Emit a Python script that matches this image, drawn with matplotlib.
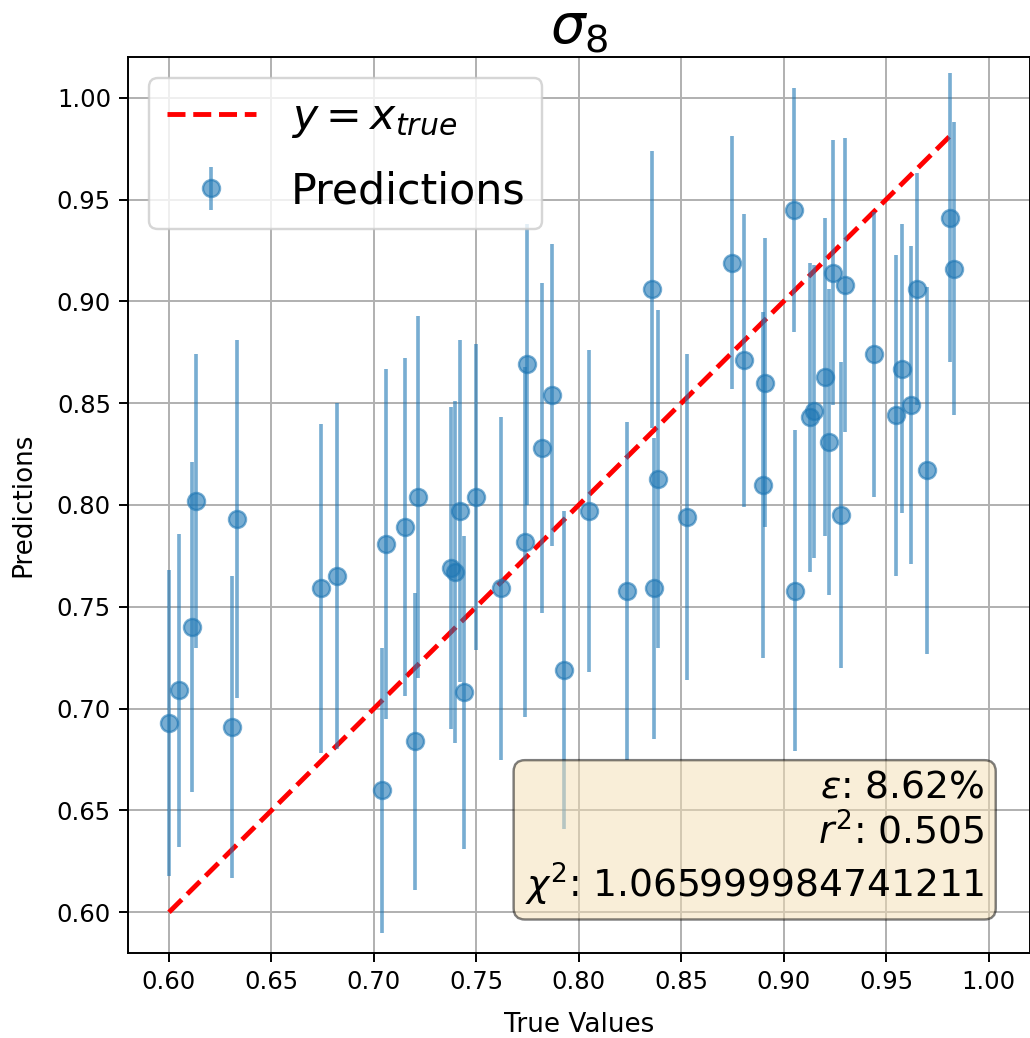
import matplotlib
matplotlib.use("Agg")
import matplotlib.pyplot as plt
import numpy as np

true_values = [0.600, 0.605, 0.611, 0.613, 0.631, 0.633, 0.674, 0.682, 0.704, 0.706,
               0.715, 0.720, 0.7215, 0.7376, 0.7395, 0.742, 0.744, 0.750, 0.762, 0.7746,
               0.774, 0.782, 0.787, 0.793, 0.805, 0.8234, 0.8356, 0.8366, 0.8385, 0.8527,
               0.8746, 0.8805, 0.8907, 0.8898, 0.9049, 0.9054, 0.9127, 0.9146, 0.920, 0.922,
               0.924, 0.930, 0.928, 0.944, 0.955, 0.958, 0.962, 0.965, 0.970, 0.981, 0.983]
predictions = [0.693, 0.709, 0.740, 0.802, 0.691, 0.793, 0.759, 0.765, 0.660, 0.781,
               0.789, 0.684, 0.804, 0.769, 0.767, 0.797, 0.708, 0.804, 0.759, 0.869,
               0.782, 0.828, 0.854, 0.719, 0.797, 0.758, 0.906, 0.759, 0.813, 0.794,
               0.919, 0.871, 0.860, 0.810, 0.945, 0.758, 0.843, 0.846, 0.863, 0.831,
               0.914, 0.908, 0.795, 0.874, 0.844, 0.867, 0.849, 0.906, 0.817, 0.941, 0.916]
errors = [0.075, 0.077, 0.081, 0.072, 0.074, 0.088, 0.081, 0.085, 0.070, 0.086,
          0.083, 0.073, 0.089, 0.079, 0.084, 0.084, 0.077, 0.075, 0.084, 0.069,
          0.086, 0.081, 0.074, 0.078, 0.079, 0.083, 0.068, 0.074, 0.083, 0.080,
          0.062, 0.072, 0.071, 0.085, 0.060, 0.079, 0.076, 0.072, 0.078, 0.075,
          0.065, 0.072, 0.075, 0.070, 0.079, 0.071, 0.078, 0.057, 0.090, 0.071, 0.072]

title = r"$\sigma_8$"
stats_text = "$\\varepsilon$: 8.62%\n$r^2$: 0.505\n$\\chi^2$: 1.065999984741211"

DPI = 175
fig = plt.figure(figsize=(1030 / DPI, 1038 / DPI), dpi=DPI)
ax = fig.add_axes([128 / 1030, 85 / 1038, 901.5 / 1030, 896 / 1038])

x = np.array(true_values)
lo, hi = x.min(), x.max()
ax.plot([lo, hi], [lo, hi], 'r--', lw=2, label=r"$y = x_{true}$")
ax.errorbar(true_values, predictions, yerr=errors, fmt='o', color='C0',
            alpha=0.6, markersize=7, label='Predictions')

ax.set_xlim(0.58, 1.02)
ax.set_ylim(0.58, 1.02)
ax.set_xticks(np.arange(0.60, 1.001, 0.05))
ax.set_yticks(np.arange(0.60, 1.001, 0.05))
ax.grid(True)
ax.set_xlabel("True Values", fontsize=10.8, labelpad=7.5)
ax.set_ylabel("Predictions", fontsize=10.8, labelpad=8.5)
ax.set_title(title, fontsize=22.5)
ax.legend(loc='upper left', fontsize=17.6, handlelength=2.1, labelspacing=0.72)
ax.text(0.95, 0.05, stats_text, transform=ax.transAxes, ha='right', va='bottom',
        fontsize=15.5, linespacing=1.25,
        bbox=dict(boxstyle='round', facecolor='wheat', alpha=0.5))

fig.savefig("out.png", dpi=DPI)
